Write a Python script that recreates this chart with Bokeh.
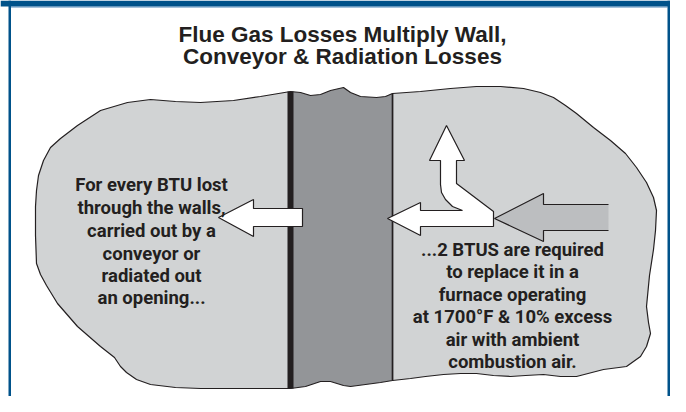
from bokeh.plotting import figure
from bokeh.models import Range1d
from bokeh.core.properties import value
from bokeh.embed import file_html
from bokeh.resources import INLINE

# ---- text content ----
title_lines = ["Flue Gas Losses Multiply Wall,", "Conveyor & Radiation Losses"]
left_lines = ["For every BTU lost", "through the walls,", "carried out by a",
              "conveyor or", "radiated out", "an opening..."]
right_lines = ["...2 BTUS are required", "to replace it in a", "furnace operating",
               "at 1700\u00b0F & 10% excess", "air with ambient", "combustion air."]

# ---- diagram outlines (reference pixel coordinates) ----
left_blob_x = [290, 260, 233, 200, 175, 150, 127, 100, 77, 60, 50, 43, 38, 36, 35, 35, 36, 40, 46, 57,
               77, 100, 114, 120, 126, 136, 150, 175, 200, 290]
left_blob_y = [91, 96, 100, 102, 101, 99, 102, 110, 125, 138, 147, 160, 175, 190, 206, 235, 263, 274, 285, 303,
               326, 346, 357, 366, 372, 379, 384, 387, 388, 388]

wall_x = [290, 300, 310, 320, 330, 343, 350, 360, 376, 385, 392, 392, 380, 365, 350, 343, 330, 320, 305, 290]
wall_y = [91, 92, 95, 94, 90, 87, 92, 96, 97, 96, 93, 380, 382, 384, 386, 385, 381, 381, 386, 388]

right_blob_x = [392, 420, 450, 476, 500, 523, 540, 553, 565, 576, 593, 610, 625, 636, 646, 653, 656, 655, 653,
                649, 646, 648, 650, 646, 640, 626, 603, 576, 560, 543, 525, 510, 493, 476, 460, 443, 425, 410, 392]
right_blob_y = [93, 91, 88, 86, 86, 88, 92, 97, 105, 113, 127, 140, 153, 167, 182, 197, 210, 230, 249,
                275, 306, 322, 333, 346, 356, 366, 369, 376, 376, 374, 375, 376, 375, 373, 373, 374, 376, 378, 380]

left_arrow_x = [218, 253, 253, 302, 302, 253, 253]
left_arrow_y = [217, 199, 208, 208, 226, 226, 236]

mid_arrow_x = [446, 464, 456, 456, 493, 493, 420, 420, 387, 420, 420, 462, 452, 445, 441, 440, 440, 429]
mid_arrow_y = [125, 160, 160, 183, 211, 226, 226, 235, 218, 202, 210, 210, 206, 199, 192, 184, 160, 160]

gray_arrow_x = [494, 543, 543, 608, 608, 543, 543]
gray_arrow_y = [218, 193, 204, 204, 230, 230, 241]
gray_outline_x = [608, 543, 543, 494, 543, 543, 608]
gray_outline_y = [204, 204, 193, 218, 241, 230, 230]

BLUE = "#00528a"
INK = "#231f20"
LIGHT = "#d1d3d4"
WALL = "#939598"
GRAYARROW = "#bcbec0"

W, H = 670, 396
p = figure(width=W, height=H, output_backend="svg", toolbar_location=None,
           x_range=Range1d(0, W), y_range=Range1d(H, 0), min_border=0,
           background_fill_color="white", border_fill_color="white")
p.axis.visible = False
p.grid.visible = False
p.outline_line_color = None

# frame
p.quad(left=0, right=W, top=0, bottom=6, fill_color=BLUE, line_color=None)
p.quad(left=10, right=W - 3, top=6, bottom=7, fill_color="#4f86b5", line_color=None)
p.quad(left=8, right=10.5, top=0, bottom=H, fill_color=BLUE, line_color=None)
p.quad(left=W - 3, right=W - 0.5, top=0, bottom=H, fill_color=BLUE, line_color=None)

# blobs and wall
p.patch(left_blob_x, left_blob_y, fill_color=LIGHT, line_color=INK, line_width=1.2)
p.patch(right_blob_x, right_blob_y, fill_color=LIGHT, line_color=INK, line_width=1.2)
p.patch(wall_x, wall_y, fill_color=WALL, line_color=INK, line_width=1.2)
p.line([290, 290], [91, 388], line_color=INK, line_width=6)
p.line([392, 392], [93, 380], line_color=INK, line_width=1.5)

# arrows
p.patch(gray_arrow_x, gray_arrow_y, fill_color=GRAYARROW, line_color=None)
p.line(gray_outline_x, gray_outline_y, line_color=INK, line_width=1.2)
p.patch(mid_arrow_x, mid_arrow_y, fill_color="white", line_color=INK, line_width=1.2)
p.patch(left_arrow_x, left_arrow_y, fill_color="white", line_color=INK, line_width=1.2)

# texts (baselines)
title_y = [41, 63]
left_y = [192, 215, 238, 261, 283, 305]
right_y = [257, 279, 302, 324, 347, 369]
shift = -7.5  # svg alphabetic baseline offset compensation
p.text(x=[342] * 2, y=[v + shift for v in title_y], text=title_lines, text_align="center",
       text_baseline="alphabetic", text_font=value("Liberation Sans"), text_font_style="bold",
       text_font_size="22.5px", text_color=INK)
p.text(x=[151] * 6, y=[v + shift for v in left_y], text=left_lines, text_align="center",
       text_baseline="alphabetic", text_font=value("Roboto"), text_font_style="bold",
       text_font_size="18.5px", text_color=INK)
p.text(x=[512] * 6, y=[v + shift for v in right_y], text=right_lines, text_align="center",
       text_baseline="alphabetic", text_font=value("Roboto"), text_font_style="bold",
       text_font_size="18.5px", text_color=INK)

open("out.html", "w").write(file_html(p, INLINE))
